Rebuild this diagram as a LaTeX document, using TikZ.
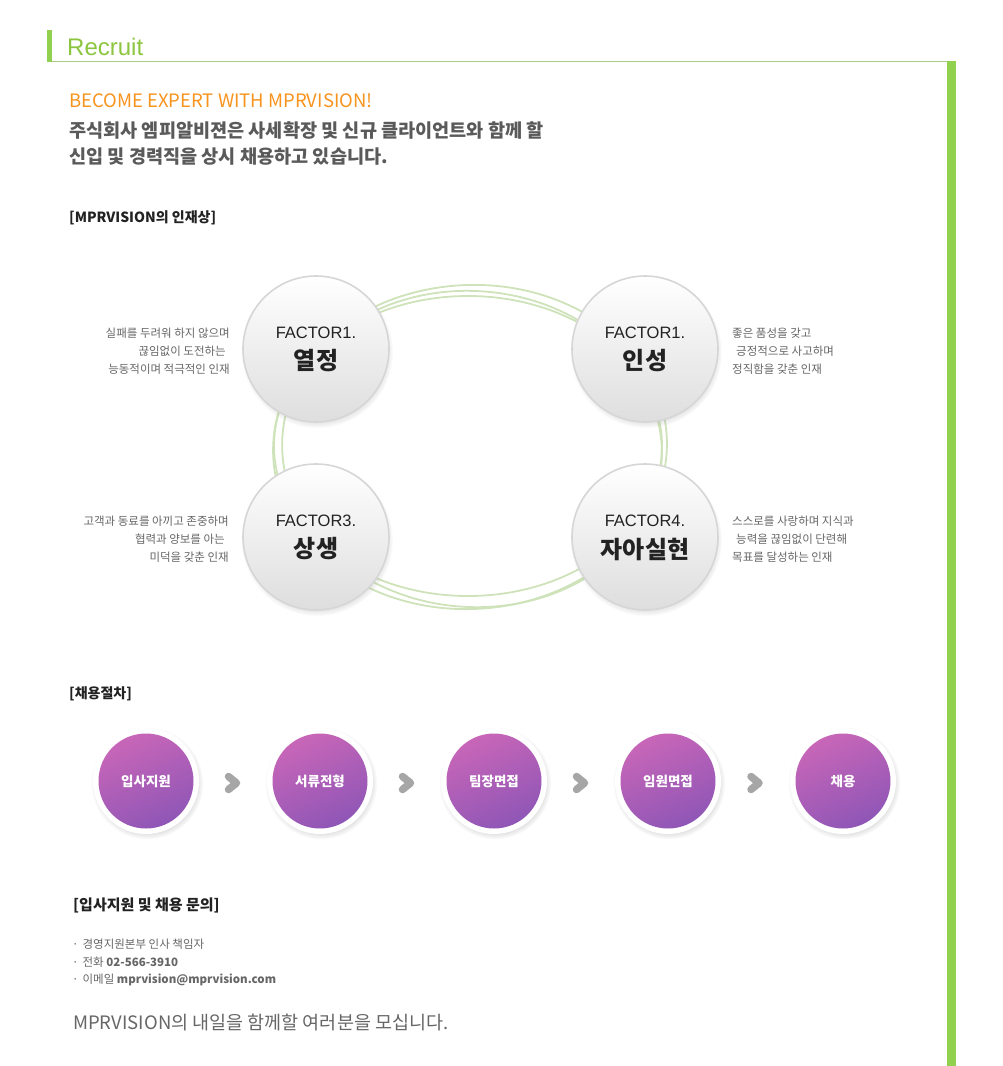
\documentclass[tikz,border=0pt]{standalone}
\usepackage{fontspec}
\setmainfont{Noto Sans CJK KR}
\newfontfamily\arialf{Liberation Sans}
\usetikzlibrary{shadows,calc}
\definecolor{rgreen}{HTML}{8CC63F}
\definecolor{barGreen}{HTML}{92D050}
\definecolor{lineGreen}{HTML}{A9CC8A}
\definecolor{ringGreen}{HTML}{CFE3BA}
\definecolor{orng}{HTML}{F7941D}
\definecolor{txtA}{HTML}{5A5A5A}
\definecolor{txtB}{HTML}{666666}
\definecolor{headC}{HTML}{222222}
\definecolor{pTop}{HTML}{C866B8}
\definecolor{pBot}{HTML}{8F56B6}
\begin{document}
\begin{tikzpicture}[x=1pt,y=-1pt,
  lefttext/.style={anchor=west,inner sep=0pt},
  heading/.style={lefttext,text=headC,font=\bfseries\fontsize{14}{16}\selectfont},
  fcircle/.style={circle,minimum size=146pt,inner sep=0pt,top color=white,bottom color=black!13,
    draw=black!16,line width=1.6pt,
    circular drop shadow={shadow xshift=1pt,shadow yshift=-3pt,shadow scale=1.04,opacity=0.35}},
  ftop/.style={inner sep=0pt,text=headC,font=\arialf\fontsize{16.5}{19}\selectfont},
  fbig/.style={inner sep=0pt,text=headC,font=\bfseries\fontsize{24}{28}\selectfont},
  descL/.style={anchor=east,align=right,inner sep=0pt,text=txtB,font=\fontsize{11.5}{18}\selectfont},
  descR/.style={anchor=west,align=left,inner sep=0pt,text=txtB,font=\fontsize{11.5}{18}\selectfont},
  ring/.style={draw=ringGreen,line width=1.8pt},
  pouter/.style={circle,minimum size=106pt,inner sep=0pt,fill=white,
    circular drop shadow={shadow xshift=1pt,shadow yshift=-2pt,shadow scale=1.06,opacity=0.3}},
  pinner/.style={circle,minimum size=95pt,inner sep=0pt,top color=pTop,bottom color=pBot,shading angle=25,
    text=white,font=\bfseries\fontsize{13.5}{16}\selectfont},
  chev/.style={draw=black!35,line width=7.5pt,line cap=round,line join=round},
  bullet/.style={lefttext,text=txtB,font=\fontsize{11.5}{14}\selectfont}
]
\useasboundingbox (0,0) rectangle (1003,1066);
\fill[white] (0,0) rectangle (1003,1066);

% header
\fill[barGreen] (47,30) rectangle (52,62);
\draw[lineGreen,line width=1.2pt] (52,61.5) -- (947,61.5);
\fill[barGreen] (947,61) rectangle (956,1066);
\node[anchor=base west,inner sep=0pt,text=rgreen,font=\arialf\fontsize{24}{28}\selectfont] (rec) at (67,55) {Recruit};

\node[lefttext,text=orng,font=\fontsize{18.5}{22}\selectfont] (become) at (69,101) {BECOME EXPERT WITH MPRVISION!};
\node[lefttext,text=txtA,font=\bfseries\fontsize{18.6}{21}\selectfont] (intro1) at (69,130) {주식회사 엠피알비젼은 사세확장 및 신규 클라이언트와 함께 할};
\node[lefttext,text=txtA,font=\bfseries\fontsize{18.6}{21}\selectfont] (intro2) at (69,157) {신입 및 경력직을 상시 채용하고 있습니다.};
\node[heading] (h1) at (69,218) {[MPRVISION의 인재상]};

% green rings
\draw[ring] (470,447) ellipse [x radius=197, y radius=162, rotate=3];
\draw[ring] (472,449) ellipse [x radius=190, y radius=158, rotate=-4];
\draw[ring] (468,446) ellipse [x radius=194, y radius=150];

% factor circles
\node[fcircle] (f1) at (316,349) {};
\node[fcircle] (f2) at (645,349) {};
\node[fcircle] (f3) at (316,537) {};
\node[fcircle] (f4) at (645,537) {};
\node[ftop] (f1a) at ($(f1)+(0,-16)$) {FACTOR1.};
\node[fbig] (f1b) at ($(f1)+(0,12)$) {열정};
\node[ftop] (f2a) at ($(f2)+(0,-16)$) {FACTOR1.};
\node[fbig] (f2b) at ($(f2)+(0,12)$) {인성};
\node[ftop] (f3a) at ($(f3)+(0,-16)$) {FACTOR3.};
\node[fbig] (f3b) at ($(f3)+(0,12)$) {상생};
\node[ftop] (f4a) at ($(f4)+(0,-16)$) {FACTOR4.};
\node[fbig] (f4b) at ($(f4)+(0,12)$) {자아실현};

% descriptions
\node[descL] (d1) at (230,351) {실패를 두려워 하지 않으며\\끊임없이 도전하는\hspace{4pt}\mbox{}\\능동적이며 적극적인 인재};
\node[descR] (d2) at (732,351) {좋은 품성을 갖고\\\mbox{}\hspace{4pt}긍정적으로 사고하며\\정직함을 갖춘 인재};
\node[descL] (d3) at (229,539) {고객과 동료를 아끼고 존중하며\\협력과 양보를 아는\hspace{4pt}\mbox{}\\미덕을 갖춘 인재};
\node[descR] (d4) at (732,539) {스스로를 사랑하며 지식과\\\mbox{}\hspace{4pt}능력을 끊임없이 단련해\\목표를 달성하는 인재};

% process
\node[heading] (h2) at (69,694) {[채용절차]};
\node[pouter] (p1o) at (146,781) {};
\node[pouter] (p2o) at (320,781) {};
\node[pouter] (p3o) at (494,781) {};
\node[pouter] (p4o) at (668,781) {};
\node[pouter] (p5o) at (843,781) {};
\node[pinner] (p1) at (p1o) {입사지원};
\node[pinner] (p2) at (p2o) {서류전형};
\node[pinner] (p3) at (p3o) {팀장면접};
\node[pinner] (p4) at (p4o) {임원면접};
\node[pinner] (p5) at (p5o) {채용};
\foreach \a/\b/\n in {p1/p2/a1,p2/p3/a2,p3/p4/a3,p4/p5/a4}{
  \coordinate (\n) at ($(\a)!0.5!(\b)+(0,2)$);
  \draw[chev] ($(\n)+(-4.5,-6.5)$) -- ($(\n)+(3.5,0)$) -- ($(\n)+(-4.5,6.5)$);
}

% contact
\node[lefttext,text=headC,font=\bfseries\fontsize{15}{18}\selectfont] (h3) at (73,905) {[입사지원 및 채용 문의]};
\node[bullet] (b1) at (72,944) {·\hspace{4pt}경영지원본부 인사 책임자};
\node[bullet] (b2) at (72,962) {·\hspace{4pt}전화 \textbf{02-566-3910}};
\node[bullet] (b3) at (72,980) {·\hspace{4pt}이메일 \textbf{mprvision@mprvision.com}};
\node[lefttext,text=txtB,font=\fontsize{18.5}{22}\selectfont] (closing) at (73,1022) {MPRVISION의 내일을 함께할 여러분을 모십니다.};
\end{tikzpicture}
\end{document}
